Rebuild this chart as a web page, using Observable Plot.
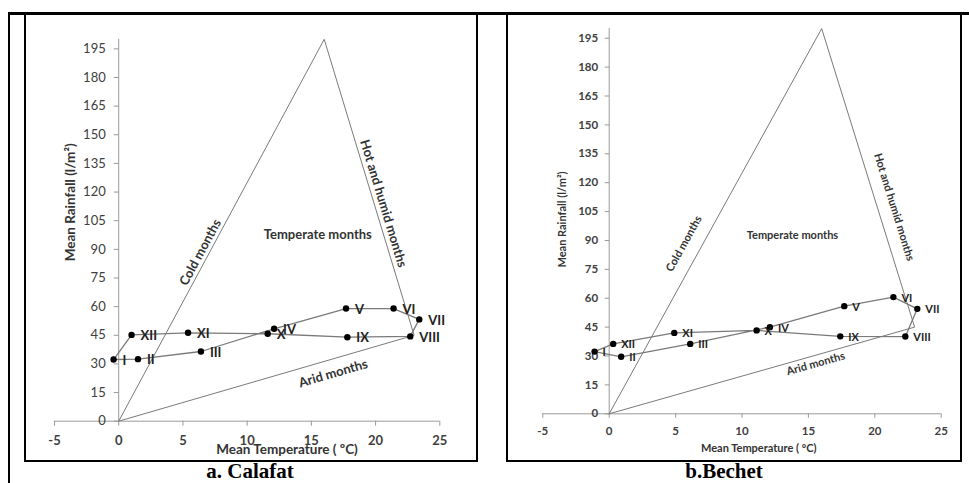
<!DOCTYPE html>
<html><head><meta charset="utf-8">
<script src="https://cdn.jsdelivr.net/npm/d3@7"></script>
<script src="https://cdn.jsdelivr.net/npm/@observablehq/plot@0.6"></script>
<style>
body{margin:0;background:#fff;}
#page{position:relative;width:969px;height:483px;font-family:Lato,sans-serif;background:#fff;}
.line{position:absolute;background:#000;z-index:2;}
.box{position:absolute;border:2px solid #000;border-top:none;z-index:2;box-sizing:border-box;}
.cap{position:absolute;font-family:"Liberation Serif","Times New Roman",serif;font-weight:bold;font-size:21px;line-height:21px;transform:translateX(-50%);white-space:nowrap;top:461px;color:#000;}
.chart{position:absolute;top:0;z-index:1;}
</style></head><body>
<div id="page">
 <div class="line" style="left:8px;top:11.5px;width:961px;height:3px"></div>
 <div class="line" style="left:7.5px;top:12px;width:2px;height:471px"></div>
 <div class="box" style="left:24px;top:13px;width:454px;height:449px"></div>
 <div class="box" style="left:506px;top:13px;width:456px;height:449px"></div>
 <div class="cap" style="left:250px">a. Calafat</div>
 <div class="cap" style="left:724px">b.Bechet</div>
</div>
<script>
// ---- data ----
const months = ["I","II","III","IV","V","VI","VII","VIII","IX","X","XI","XII"];
const calafatTemp = [-0.4, 1.5, 6.4, 12.1, 17.7, 21.4, 23.4, 22.7, 17.8, 11.6, 5.4, 1.0];
const calafatRain = [32.3, 32.5, 36.5, 48.4, 59.0, 59.0, 53.3, 44.4, 44.0, 45.8, 46.3, 45.2];
const bechetTemp = [-1.1, 0.9, 6.1, 12.1, 17.7, 21.4, 23.2, 22.3, 17.4, 11.1, 4.9, 0.3];
const bechetRain = [32.3, 29.6, 36.3, 45.0, 55.9, 60.6, 54.5, 40.1, 40.2, 43.3, 42.0, 36.3];
const triangleTemp = [0, 16, 23, 0];
const triangleRain = [0, 200, 45, 0];
const xTicks = [-5, 0, 5, 10, 15, 20, 25];
const yTicks = [0, 15, 30, 45, 60, 75, 90, 105, 120, 135, 150, 165, 180, 195];
const zoneNames = ["Temperate months", "Cold months", "Hot and humid months", "Arid months"];
const xTitle = "Mean Temperature ( ºC)";
const yTitle = "Mean Rainfall (l/m²)";

const axisGray = "#9a9a9a";
const lineGray = "#7a7a7a";

function tickShape(len, dir) {
  return {draw(ctx) {
    ctx.moveTo(0, 0);
    if (dir === "left") ctx.lineTo(-len, 0); else ctx.lineTo(0, len);
  }};
}

function chart(cfg) {
  const pts = months.map((m, i) => ({m, t: cfg.temp[i], r: cfg.rain[i]}));
  const loop = [...pts, pts[0]];
  const tri = triangleTemp.map((t, i) => ({t, r: triangleRain[i]}));
  const zoneMarks = zoneNames.map((name, i) => Plot.text([name], {
    x: cfg.zones[i][0], y: cfg.zones[i][1], rotate: cfg.zones[i][2], text: d => d,
    fontWeight: "bold", fontSize: cfg.fs, fill: "#333"
  }));
  const svg = Plot.plot({
    width: cfg.width, height: 483,
    marginLeft: cfg.ml, marginRight: cfg.mr, marginTop: cfg.mt, marginBottom: cfg.mb,
    x: {domain: [-5, 25]},
    y: {domain: [0, 200], axis: null},
    style: {fontFamily: "Lato, sans-serif", background: "transparent", overflow: "visible"},
    marks: [
      Plot.ruleY([0], {x1: -5, x2: 25, stroke: axisGray}),
      Plot.ruleX([0], {y1: 0, y2: 200, stroke: axisGray}),
      Plot.axisX(xTicks, {tickSize: cfg.tick, tickPadding: cfg.xPad, tickFormat: d => String(d),
        fontWeight: "bold", fontSize: cfg.xfs, stroke: axisGray, fill: "#404040", label: null}),
      Plot.dot(yTicks, {x: 0, y: d => d, symbol: tickShape(cfg.tick, "left"), stroke: axisGray, fill: "none", strokeWidth: 1}),
      Plot.text(yTicks, {x: 0, y: d => d, text: d => String(d), textAnchor: "end", dx: -cfg.ydx,
        fontSize: cfg.yfs, fontWeight: cfg.yfw, fill: "#404040"}),
      Plot.line(tri, {x: "t", y: "r", stroke: lineGray, strokeWidth: 1}),
      Plot.line(loop, {x: "t", y: "r", stroke: lineGray, strokeWidth: 1.3}),
      Plot.dot(pts, {x: "t", y: "r", r: 3.2, fill: "#000"}),
      Plot.text(pts, {x: "t", y: "r", text: "m", dx: cfg.ldx, dy: 1, textAnchor: "start",
        fontWeight: "bold", fontSize: cfg.fs, fill: "#222"}),
      ...zoneMarks,
      Plot.text([yTitle], {x: cfg.yTitle[0], y: cfg.yTitle[1], rotate: -90, text: d => d,
        fontWeight: "bold", fontSize: cfg.tfs, fill: "#333"}),
      Plot.text([xTitle], {x: cfg.xTitle[0], frameAnchor: "bottom", dy: cfg.xTitle[1], text: d => d,
        fontWeight: "bold", fontSize: cfg.tfs, fill: "#333"})
    ]
  });
  svg.classList.add("chart");
  svg.style.left = cfg.left + "px";
  svg.style.maxWidth = "none";
  document.getElementById("page").appendChild(svg);
}

chart({
  temp: calafatTemp, rain: calafatRain, left: 0, width: 490,
  ml: 54, mr: 50.7, mt: 38.8, mb: 62.3,
  tick: 5, xPad: 10, xfs: 13, yfs: 13, yfw: "normal", ydx: 13, ldx: 9, fs: 13, tfs: 13.5,
  zones: [[15.5, 97.8, 0], [6.36, 88.4, -61.7], [20.6, 114, 73.1], [16.7, 25.0, -16.2]],
  yTitle: [-3.76, 114.6], xTitle: [13.1, 33]
});
chart({
  temp: bechetTemp, rain: bechetRain, left: 490, width: 479,
  ml: 52.3, mr: 28.3, mt: 28.1, mb: 69.7,
  tick: 4.5, xPad: 9, xfs: 11.5, yfs: 11.5, yfw: "bold", ydx: 11, ldx: 8, fs: 11, tfs: 11,
  zones: [[13.8, 92.7, 0], [5.63, 88.3, -61.1], [21.45, 107.3, 72.7], [15.55, 26, -15.8]],
  yTitle: [-3.52, 100.9], xTitle: [11.26, 38]
});
</script>
</body></html>
